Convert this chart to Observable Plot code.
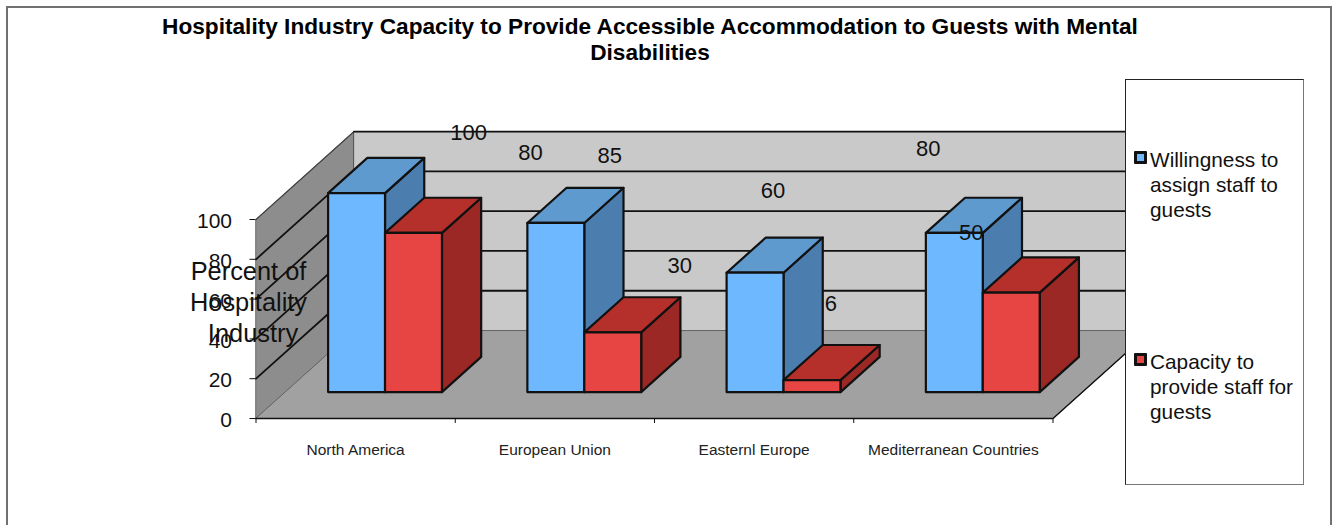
<!DOCTYPE html>
<html>
<head>
<meta charset="utf-8">
<script src="https://cdn.jsdelivr.net/npm/d3@7"></script>
<script src="https://cdn.jsdelivr.net/npm/@observablehq/plot@0.6"></script>
<style>
  html, body { margin: 0; padding: 0; background: #fff; }
  #page { position: relative; width: 1337px; height: 525px; overflow: hidden; font-family: "Liberation Sans", Arial, sans-serif; color: #111; }
  #page svg { position: absolute; left: 0; top: 0; background: transparent; }
  #frame { position: absolute; left: 6px; top: 6px; width: 1326px; height: 530px; border: 2px solid #707070; box-sizing: border-box; }
  #title { position: absolute; left: 100px; width: 1100px; top: 13px; text-align: center; font-weight: bold; font-size: 22.65px; line-height: 26px; color: #000; }
  #legend { position: absolute; left: 1125px; top: 79px; width: 179px; height: 406px; box-sizing: border-box; background: #fff; border: 1px solid #222; border-right-color: #777; border-bottom-color: #777; }
  .entry { position: absolute; left: 24px; font-size: 20.8px; line-height: 25.2px; white-space: nowrap; }
  .swatch { position: absolute; left: 8px; width: 13px; height: 13px; box-sizing: border-box; border: 3px solid #111; border-radius: 1px; }
</style>
</head>
<body>
<div id="page">
  <div id="frame"></div>
  <div id="title"></div>
</div>
<script>
const titleLines = ["Hospitality Industry Capacity to Provide Accessible Accommodation to Guests with Mental", "Disabilities"];
const categories = ["North America", "European Union", "Easternl Europe", "Mediterranean Countries"];
const seriesNames = ["Willingness to assign staff to guests", "Capacity to provide staff for guests"];
const legendLines = [["Willingness to", "assign staff to", "guests"], ["Capacity to", "provide staff for", "guests"]];
const willingness = [100, 85, 60, 80];
const capacity = [80, 30, 6, 50];
const yTicks = [0, 20, 40, 60, 80, 100];
const yLabelLines = ["Percent of", "Hospitality", "Industry"];

// layout of the pseudo-3D projection, in data units
const depthX = 0.492, depthY = 44.2;        // how far the back wall is shifted from the front plane
const barFront = 0.3, barBack = 0.7;        // bar depth range
const barGap = 3 / 14, barWidth = 2 / 7;    // within one category
const P = (cat, val, d) => ({x: cat + d * depthX, y: val + d * depthY});
const face = (pts, fill, stroke = "#111", strokeWidth = 2.2) =>
  Plot.line(pts, {x: "x", y: "y", fill, stroke, strokeWidth, curve: "linear-closed", strokeLinejoin: "round"});
const seg = (a, b, stroke = "#111", strokeWidth = 1.8) =>
  Plot.line([a, b], {x: "x", y: "y", stroke, strokeWidth});

const n = categories.length, yMax = yTicks[yTicks.length - 1];
const walls = [
  face([P(0, 0, 0), P(0, 0, 1), P(0, yMax, 1), P(0, yMax, 0)], "#8d8d8d", "#666", 1),
  face([P(0, 0, 1), P(n, 0, 1), P(n, yMax, 1), P(0, yMax, 1)], "#c9c9c9", "#555", 1),
  face([P(0, 0, 0), P(n, 0, 0), P(n, 0, 1), P(0, 0, 1)], "#a1a1a1", "#666", 1)
];
const grid = yTicks.slice(1).flatMap(t => [
  t < yMax ? seg(P(0, t, 0), P(0, t, 1)) : seg(P(0, t, 0), P(0, t, 1), "#444", 1.2),
  seg(P(0, t, 1), P(n, t, 1))
]);

const palette = [
  {front: "#6db8ff", top: "#5f9acf", side: "#4b7eaf"},
  {front: "#e64543", top: "#b52f2b", side: "#9b2825"}
];
function bar(cat, s, v) {
  const c = palette[s];
  const l = cat + barGap + s * barWidth, r = l + barWidth;
  return [
    face([P(r, 0, barFront), P(r, 0, barBack), P(r, v, barBack), P(r, v, barFront)], c.side),
    face([P(l, v, barFront), P(r, v, barFront), P(r, v, barBack), P(l, v, barBack)], c.top),
    face([P(l, 0, barFront), P(r, 0, barFront), P(r, v, barFront), P(l, v, barFront)], c.front)
  ];
}
const bars = categories.flatMap((_, i) => [...bar(i, 0, willingness[i]), ...bar(i, 1, capacity[i])]);

// the source chart's value labels float away from their bars: per-label nudges in pixels
const labelNudge = [
  [[112, -60], [117, -80]],
  [[54, -67], [67, -66]],
  [[18, -82], [19, -76]],
  [[-26, -84], [-40, -60]]
];
const valueLabels = categories.flatMap((_, i) => [willingness[i], capacity[i]].map((v, s) => {
  const p = P(i + barGap + (s + 0.5) * barWidth, v, barFront);
  return Plot.text([v], {x: () => p.x, y: () => p.y, text: d => String(d), dx: labelNudge[i][s][0], dy: labelNudge[i][s][1],
    fontSize: 22, fill: "#111", lineAnchor: "middle"});
}));

// the axis title's lines are not quite centred on each other in the source
const yLabelMarks = yLabelLines.map((line, i) =>
  Plot.text([line], {text: d => d, frameAnchor: "left", dx: [-7.5, -7.5, -3][i], dy: -47 + i * 31, textAnchor: "middle", lineAnchor: "middle", fontSize: 25.4, fill: "#111"}));

const chart = Plot.plot({
  width: 1337, height: 525,
  marginLeft: 255.5, marginRight: 284.5, marginTop: 219, marginBottom: 107,
  style: {fontFamily: "'Liberation Sans', Arial, sans-serif", background: "transparent", overflow: "visible"},
  x: {domain: [0, n], axis: null},
  y: {domain: [0, yMax], axis: null},
  marks: [
    ...walls,
    ...grid,
    seg(P(n, 0, 0), P(n, 0, 1), "#111", 1.4),
    ...bars,
    Plot.ruleY([0], {stroke: "#111", strokeWidth: 1.6}),
    Plot.axisX(d3.range(n + 1), {anchor: "bottom", tickSize: 5, tickFormat: () => "", label: null, stroke: "#111"}),
    Plot.axisY(yTicks, {anchor: "left", tickSize: 6, tickFormat: () => "", label: null, stroke: "#111"}),
    Plot.axisY(yTicks, {anchor: "left", tickSize: 0, tickPadding: 24, dy: 2, fontSize: 21, label: null, fill: "#111"}),
    Plot.text(categories, {x: (d, i) => i + 0.5, text: d => d, frameAnchor: "bottom", dy: 32, lineAnchor: "middle", fontSize: 15.5, fill: "#222"}),
    ...valueLabels,
    ...yLabelMarks
  ]
});

const page = document.getElementById("page");
page.appendChild(chart);
document.getElementById("title").innerHTML = titleLines.join("<br>");

const legend = document.createElement("div");
legend.id = "legend";
legend.setAttribute("aria-label", seriesNames.join("; "));
[[71, 67], [273, 269]].forEach(([swatchTop, textTop], s) => {
  const sw = document.createElement("div");
  sw.className = "swatch";
  sw.style.top = swatchTop + "px";
  sw.style.background = palette[s].front;
  legend.appendChild(sw);
  const e = document.createElement("div");
  e.className = "entry";
  e.style.top = textTop + "px";
  e.innerHTML = legendLines[s].join("<br>");
  legend.appendChild(e);
});
page.appendChild(legend);
</script>
</body>
</html>
